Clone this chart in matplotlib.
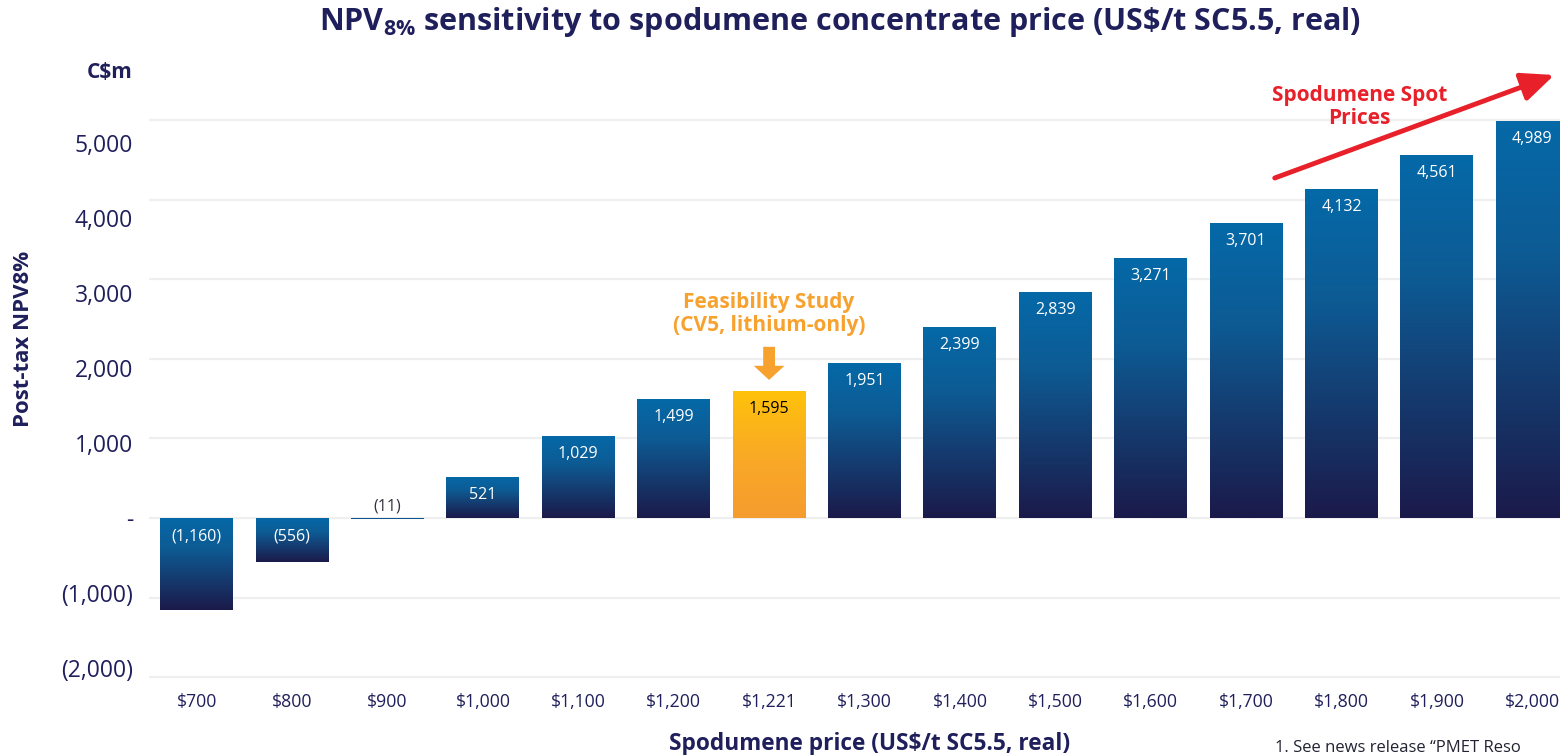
import numpy as np
import matplotlib
matplotlib.use('Agg')
import matplotlib.pyplot as plt
from matplotlib.colors import LinearSegmentedColormap

plt.rcParams['font.family'] = ['Open Sans', 'DejaVu Sans']
plt.rcParams['mathtext.fontset'] = 'custom'
plt.rcParams['mathtext.rm'] = 'Open Sans'
plt.rcParams['mathtext.bf'] = 'Open Sans:bold'

# data
prices = ['$700', '$800', '$900', '$1,000', '$1,100', '$1,200', '$1,221', '$1,300',
          '$1,400', '$1,500', '$1,600', '$1,700', '$1,800', '$1,900', '$2,000']
npv = [-1160, -556, -11, 521, 1029, 1499, 1595, 1951,
       2399, 2839, 3271, 3701, 4132, 4561, 4989]
fs_idx = 6  # feasibility study case ($1,221)
ytick_vals = [5000, 4000, 3000, 2000, 1000, 0, -1000, -2000]

NAVY = '#1f1f5c'
ORANGE = '#f7a12e'
RED = '#e8202a'

blue_cm = LinearSegmentedColormap.from_list('bl', ['#1b1a4a', '#153a6e', '#0d5b94', '#0569a8'])
orange_cm = LinearSegmentedColormap.from_list('or', ['#f59c2f', '#f9aa25', '#ffc20a'])

def fmt(v):
    if v == 0:
        return '-'
    if v < 0:
        return '({:,})'.format(-v)
    return '{:,}'.format(v)

fig = plt.figure(figsize=(15.6, 7.55), dpi=100)
ax = fig.add_axes([149 / 1560, 65 / 755, 1431 / 1560, 590 / 755])
ax.set_xlim(-0.5, 14.5)
ax.set_ylim(-2161, 5251)

x = np.arange(len(npv))
bars = ax.bar(x, npv, width=0.765, color='none', edgecolor='none', zorder=2)

grad = np.linspace(0, 1, 256).reshape(-1, 1)
for i, b in enumerate(bars):
    x0, y0 = b.get_x(), b.get_y()
    w, h = b.get_width(), b.get_height()
    lo, hi = min(y0, y0 + h), max(y0, y0 + h)
    cm = orange_cm if i == fs_idx else blue_cm
    im = ax.imshow(grad, cmap=cm, origin='lower', aspect='auto',
                   extent=[x0, x0 + w, lo, hi], zorder=2)
    im.set_clip_path(b)

ax.set_xlim(-0.5, 14.5)
ax.set_ylim(-2161, 5251)

# value labels
for i, v in enumerate(npv):
    if v > 0:
        col = 'black' if i == fs_idx else 'white'
        ax.annotate(fmt(v), xy=(i, v), xytext=(0, -13), textcoords='offset points',
                    ha='center', va='center', fontsize=11.5, color=col, zorder=4)
    elif v < -100:
        ax.annotate(fmt(v), xy=(i, 0), xytext=(0, -13), textcoords='offset points',
                    ha='center', va='center', fontsize=11.5, color='white', zorder=4)
    else:
        ax.annotate(fmt(v), xy=(i, 0), xytext=(0, 8.5), textcoords='offset points',
                    ha='center', va='center', fontsize=11.5, color='#333340', zorder=4)

ax.set_yticks(ytick_vals)
ax.yaxis.grid(True, color='#efefef', lw=1.6, zorder=0)
ax.set_axisbelow(True)
ax.tick_params(axis='y', length=0, labelleft=False)
ax.set_xticks(x)
ax.set_xticklabels(prices)
ax.tick_params(axis='x', length=0, pad=2, labelsize=12.7, labelcolor=NAVY)
for s in ax.spines.values():
    s.set_visible(False)

# y labels sit slightly off the gridlines in the source slide
lab = ax.twinx()
lab.set_ylim(-2293, 5573)
lab.set_yticks(ytick_vals)
lab.set_yticklabels([fmt(v) for v in ytick_vals])
lab.yaxis.tick_left()
lab.tick_params(axis='y', length=0, pad=11.5, labelsize=16.5, labelcolor=NAVY)
for s in lab.spines.values():
    s.set_visible(False)

# annotations
ax.text(fs_idx, 2563, 'Feasibility Study\n(CV5, lithium-only)', ha='center', va='center',
        fontsize=15, fontweight='bold', color=ORANGE, linespacing=1.15, zorder=5)
ax.annotate('', xy=(fs_idx, 1734), xytext=(fs_idx, 2150),
            arrowprops=dict(arrowstyle='simple,head_length=0.6,head_width=1.3,tail_width=0.5',
                            color=ORANGE, lw=0, mutation_scale=17, shrinkA=0, shrinkB=0),
            zorder=5)

ax.text(12.19, 5163, 'Spodumene Spot\nPrices', ha='center', va='center',
        fontsize=15, fontweight='bold', color=RED, linespacing=1.15, zorder=5)
ax.annotate('', xy=(14.23, 5565), xytext=(11.30, 4271), annotation_clip=False,
            arrowprops=dict(arrowstyle='-|>,head_length=0.8,head_width=0.35',
                            color=RED, lw=3.5, mutation_scale=25, shrinkA=0, shrinkB=0),
            zorder=5)

fig.text(840 / 1560, 1 - 22 / 755,
         r'NPV$\mathbf{_{8\%}}$ sensitivity to spodumene concentrate price (US$\mathbf{\$}$/t SC5.5, real)',
         ha='center', va='center', fontsize=22, fontweight='bold', color=NAVY)
fig.text(133 / 1560, 1 - 72 / 755, 'C$m', ha='right', va='center',
         fontsize=15, fontweight='bold', color=NAVY)
fig.text(24 / 1560, 1 - 339 / 755, 'Post-tax NPV8%', rotation=90, ha='center', va='center',
         fontsize=16, fontweight='bold', color=NAVY)
fig.text(870 / 1560, 1 - 744 / 755, 'Spodumene price (US$/t SC5.5, real)', ha='center',
         va='center', fontsize=16.3, fontweight='bold', color=NAVY)
# footnote is cut by the slide edge in the source
fig.text(1275 / 1560, 1 - 748 / 755, '1. See news release \u201cPMET Reso',
         ha='left', va='center', fontsize=12, color='#222233')

fig.savefig('out.png', dpi=100)
